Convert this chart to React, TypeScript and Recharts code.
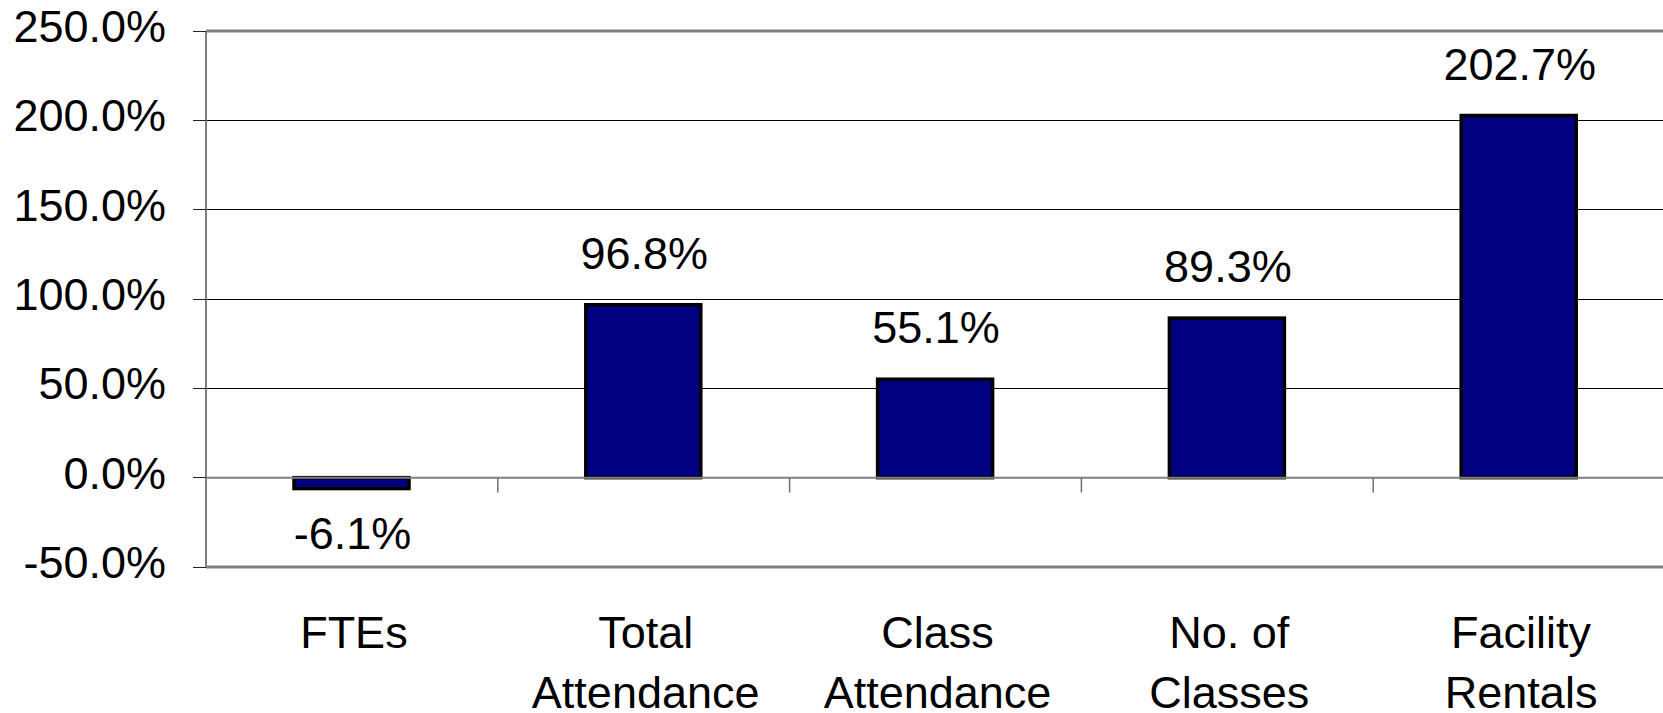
import { Bar, BarChart, CartesianGrid, LabelList, ReferenceLine, XAxis, YAxis } from "recharts";

const CATEGORIES = ["FTEs", "Total Attendance", "Class Attendance", "No. of Classes", "Facility Rentals"];
const CATEGORY_LINES: Record<string, string[]> = {
  FTEs: ["FTEs"],
  "Total Attendance": ["Total", "Attendance"],
  "Class Attendance": ["Class", "Attendance"],
  "No. of Classes": ["No. of", "Classes"],
  "Facility Rentals": ["Facility", "Rentals"],
};
const CHANGE_PCT = [-6.1, 96.8, 55.1, 89.3, 202.7];
const Y_TICKS = [-50, 0, 50, 100, 150, 200, 250];

const data = CATEGORIES.map((name, i) => ({ name, value: CHANGE_PCT[i] }));

const FONT = "'Liberation Sans', Arial, sans-serif";
const FONT_SIZE = 45;
const fmt = (v: number) => `${v.toFixed(1)}%`;

function YTick({ x, y, payload }: any) {
  return (
    <text x={x} y={y + 11} textAnchor="end" fontFamily={FONT} fontSize={FONT_SIZE} fill="#000">
      {fmt(payload.value)}
    </text>
  );
}

function XTick({ x, y, payload }: any) {
  const lines = CATEGORY_LINES[payload.value] ?? [payload.value];
  return (
    <g>
      {lines.map((line, i) => (
        <text
          key={line}
          x={x + 2}
          y={y + 81 + i * 60}
          textAnchor="middle"
          fontFamily={FONT}
          fontSize={FONT_SIZE}
          fill="#000"
        >
          {line}
        </text>
      ))}
    </g>
  );
}

function ValueLabel({ x, y, width, height, value }: any) {
  const top = Math.min(y, y + height);
  const bottom = Math.max(y, y + height);
  const ty = value < 0 ? bottom + 60 : top - 36;
  return (
    <text x={x + width / 2 + 1} y={ty} textAnchor="middle" fontFamily={FONT} fontSize={FONT_SIZE} fill="#000">
      {fmt(value)}
    </text>
  );
}

// navy bar with a heavy black outline
function OutlinedBar({ x, y, width, height }: any) {
  const top = Math.min(y, y + height);
  return (
    <rect
      x={x}
      y={top}
      width={width}
      height={Math.abs(height)}
      fill="#000080"
      stroke="#000"
      strokeWidth={3.5}
    />
  );
}

export default function App() {
  return (
    <div
      style={{
        position: "absolute",
        left: 0,
        top: 0,
        width: 1663,
        height: 713,
        overflow: "hidden",
        background: "#fff",
      }}
    >
      <BarChart width={1667} height={713} data={data} margin={{ top: 31, right: 2, left: 0, bottom: 0 }}>
        <CartesianGrid vertical={false} stroke="#000" strokeWidth={1} shapeRendering="crispEdges" />
        <XAxis
          dataKey="name"
          height={146}
          axisLine={false}
          tickLine={false}
          tickSize={0}
          tickMargin={0}
          interval={0}
          tick={<XTick />}
        />
        <YAxis
          width={206}
          domain={[-50, 250]}
          ticks={Y_TICKS}
          interval={0}
          allowDataOverflow
          tickSize={13}
          tickMargin={27}
          axisLine={{ stroke: "#808080", strokeWidth: 2 }}
          tickLine={{ stroke: "#222", shapeRendering: "crispEdges" }}
          tick={<YTick />}
        />
        <ReferenceLine y={250} stroke="#808080" strokeWidth={3} />
        <ReferenceLine y={-50} stroke="#808080" strokeWidth={3} />
        <ReferenceLine y={0} stroke="#808080" strokeWidth={2} />
        {/* tick marks between categories, hanging from the zero line */}
        {CATEGORIES.slice(1).map((name) => (
          <ReferenceLine
            key={name}
            segment={[
              { x: name, y: 0 },
              { x: name, y: -8.3 },
            ]}
            position="start"
            stroke="#707070"
            strokeWidth={1.5}
          />
        ))}
        <Bar dataKey="value" barSize={115} shape={<OutlinedBar />} isAnimationActive={false}>
          <LabelList dataKey="value" content={<ValueLabel />} />
        </Bar>
      </BarChart>
    </div>
  );
}
